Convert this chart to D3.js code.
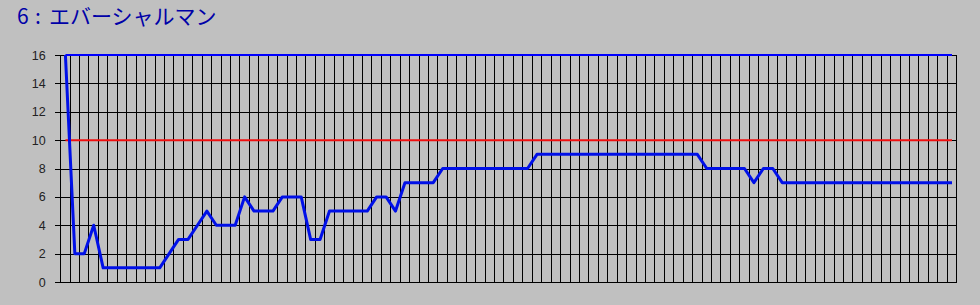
<!DOCTYPE html>
<html>
<head>
<meta charset="utf-8">
<script src="https://cdn.jsdelivr.net/npm/d3@7"></script>
<style>
  body { margin: 0; background: #c0c0c0; }
  svg { display: block; }
</style>
</head>
<body>
<svg id="viewport"></svg>
<script>
const horseNo = "6";
const horseName = "エバーシャルマン";
// rank per race
const ranks = [
  16, 2, 2, 4, 1, 1, 1, 1, 1, 1,
  1, 2, 3, 3, 4, 5, 4, 4, 4, 6,
  5, 5, 5, 6, 6, 6, 3, 3, 5, 5,
  5, 5, 5, 6, 6, 5, 7, 7, 7, 7,
  8, 8, 8, 8, 8, 8, 8, 8, 8, 8,
  9, 9, 9, 9, 9, 9, 9, 9, 9, 9,
  9, 9, 9, 9, 9, 9, 9, 9, 8, 8,
  8, 8, 8, 7, 8, 8, 7, 7, 7, 7,
  7, 7, 7, 7, 7, 7, 7, 7, 7, 7,
  7, 7, 7, 7, 7
];
const races = ranks.map((d, i) => i + 1);
const yTicks = [0, 2, 4, 6, 8, 10, 12, 14, 16];
const maxLine = 16;
const limitLine = 10;

const W = 980, H = 305;
const left = 60.7, right = 956.7;
const svg = d3.select("#viewport").attr("width", W).attr("height", H);

svg.append("rect").attr("width", W).attr("height", H).attr("fill", "#c0c0c0");

const x = d3.scaleBand().domain(races).range([left, right]).padding(0);
const y = d3.scaleLinear().domain([0, 16]).range([282, 55]);
const cx = (d) => x(d) + x.bandwidth() / 2;

const grid = svg.append("g").attr("class", "grid").attr("shape-rendering", "crispEdges");

// vertical lines at band edges
const edges = races.map((d) => x(d)).concat([right]);
grid.selectAll(".vline")
  .data(edges)
  .enter()
  .append("line")
  .attr("class", "vline")
  .attr("x1", (d) => d)
  .attr("x2", (d) => d)
  .attr("y1", y(16))
  .attr("y2", y(0))
  .attr("stroke", "#000")
  .attr("stroke-width", 1);

// y axis, ticks run across as horizontal grid
const yAxis = d3.axisLeft(y)
  .tickValues(yTicks)
  .tickPadding(9)
  .tickFormat(d3.format("d"));

const axisG = svg.append("g")
  .attr("transform", "translate(" + (left - 6) + ",0)")
  .call(yAxis);
axisG.select(".domain").remove();
axisG.selectAll(".tick line")
  .attr("x1", 0)
  .attr("x2", right - left + 6)
  .attr("stroke", "#000")
  .attr("shape-rendering", "crispEdges");
axisG.selectAll(".tick text")
  .attr("x", -9)
  .attr("fill", "#222")
  .style("font-family", "'Liberation Sans', Arial, sans-serif")
  .style("font-size", "12.5px");

// reference lines
const first = cx(races[0]), last = cx(races[races.length - 1]);
svg.append("line")
  .attr("x1", first).attr("x2", last)
  .attr("y1", y(limitLine)).attr("y2", y(limitLine))
  .attr("stroke", "#f01010")
  .attr("stroke-width", 2);
svg.append("line")
  .attr("x1", first).attr("x2", last)
  .attr("y1", y(maxLine)).attr("y2", y(maxLine))
  .attr("stroke", "#0000ff")
  .attr("stroke-width", 2);

// rank line
const line = d3.line()
  .x((d, i) => cx(races[i]))
  .y((d) => y(d));
svg.append("path")
  .datum(ranks)
  .attr("d", line)
  .attr("fill", "none")
  .attr("stroke", "#0010e8")
  .attr("stroke-width", 3)
  .attr("stroke-linejoin", "round");

const t = svg.append("text")
  .attr("y", 24)
  .attr("fill", "#0000a8")
  .style("font-family", "'Noto Sans CJK JP', sans-serif")
  .style("font-size", "21px");
t.append("tspan").attr("x", 17).text(horseNo);
t.append("tspan").attr("x", 35).text(":");
t.append("tspan").attr("x", 49).text(horseName);
</script>
</body>
</html>
